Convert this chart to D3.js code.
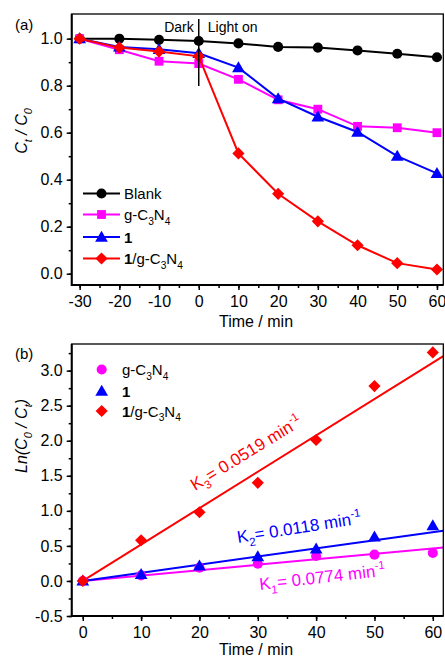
<!DOCTYPE html>
<html><head><meta charset="utf-8">
<script src="https://cdn.jsdelivr.net/npm/d3@7"></script>
<style>
html,body{margin:0;padding:0;background:#fff;}
svg{display:block;font-family:"Liberation Sans",Arial,sans-serif;}
</style></head>
<body><svg id="c" width="445" height="661"></svg>
<script>
// ---- Panel (a) data ----
const timesA = [-30,-20,-10,0,10,20,30,40,50,60];
const blankA = [1.0,1.0,0.995,0.99,0.98,0.965,0.962,0.95,0.936,0.921];
const gcnA   = [1.0,0.953,0.904,0.894,0.827,0.74,0.70,0.627,0.621,0.60];
const oneA   = [1.0,0.965,0.955,0.938,0.877,0.745,0.668,0.603,0.50,0.427];
const compA  = [1.0,0.962,0.945,0.925,0.512,0.34,0.223,0.121,0.045,0.018];
const xTicksA = [-30,-20,-10,0,10,20,30,40,50,60];
const yTicksA = [0.0,0.2,0.4,0.6,0.8,1.0];

// ---- Panel (b) data ----
const timesB = [0,10,20,30,40,50,60];
const gcnB  = [0,0.08,0.19,0.245,0.356,0.375,0.40];
const oneB  = [0,0.096,0.214,0.347,0.457,0.63,0.79];
const compB = [0,0.58,0.98,1.40,2.01,2.78,3.26];
const fitK  = [0.0077,0.0116,0.0519];   // slopes of fitted lines (g-C3N4, 1, 1/g-C3N4)
const xTicksB = [0,10,20,30,40,50,60];
const yTicksB = [-0.5,0.0,0.5,1.0,1.5,2.0,2.5,3.0];

const BLACK="#000000", MAG="#ff00ff", BLUE="#0000ff", RED="#ff0000";
const svg = d3.select("#c");
const hy = f => d => f(d).replace("\u2212","-");

function richText(g, x, y, parts, opts){
  const t = g.append("text").attr("x",x).attr("y",y)
    .attr("font-size",opts.size).attr("fill",opts.fill||"#000")
    .attr("text-anchor",opts.anchor||"start");
  if(opts.transform) t.attr("transform",opts.transform);
  if(opts.italic) t.attr("font-style","italic");
  let shift = 0;
  parts.forEach(p=>{
    const [txt, kind, bold] = p;
    let target = 0, fs = opts.size;
    if(kind==="sub"){ target = opts.size*0.3; fs = opts.size*0.68; }
    if(kind==="sup"){ target = -opts.size*0.42; fs = opts.size*0.68; }
    const ts = t.append("tspan").text(txt).attr("font-size",fs).attr("dy",target-shift);
    if(bold) ts.attr("font-weight","bold");
    shift = target;
  });
  return t;
}

function symbolPath(kind){
  if(kind==="circle") return d3.symbol(d3.symbolCircle, 80)();
  if(kind==="square") return d3.symbol(d3.symbolSquare, 78)();
  if(kind==="triangle") return d3.symbol(d3.symbolTriangle, 70)();
  if(kind==="diamond") return d3.symbol(d3.symbolSquare, 74)();
}
function drawMarker(g, x, y, kind, color){
  return g.append("path").attr("d",symbolPath(kind)).attr("fill",color)
    .attr("transform",`translate(${x},${y})` + (kind==="diamond"?" rotate(45)":"") + (kind==="triangle"?" translate(0,1)":""));
}

function frameAxes(g, x, y, xMajor, xMinor, yMajor, yMinor, yFmt){
  const [x0,x1] = x.range(), [y0,y1] = y.range();
  g.append("g").attr("transform",`translate(0,${y0})`)
    .call(d3.axisBottom(x).tickValues(xMinor).tickSize(3).tickFormat(""))
    .call(s=>s.select(".domain").remove());
  g.append("g").attr("transform",`translate(${x0},0)`)
    .call(d3.axisLeft(y).tickValues(yMinor).tickSize(3).tickFormat(""))
    .call(s=>s.select(".domain").remove());
  const ax = g.append("g").attr("transform",`translate(0,${y0})`)
    .call(d3.axisBottom(x).tickValues(xMajor).tickSize(5).tickPadding(6).tickFormat(hy(d3.format("d"))))
    .call(s=>s.select(".domain").remove());
  const ay = g.append("g").attr("transform",`translate(${x0},0)`)
    .call(d3.axisLeft(y).tickValues(yMajor).tickSize(5).tickPadding(4).tickFormat(hy(yFmt)))
    .call(s=>s.select(".domain").remove());
  [ax,ay].forEach(a=>{
    a.selectAll("text").attr("font-size",16).attr("fill","#000")
     .attr("font-family","'Liberation Sans',Arial,sans-serif");
  });
  g.selectAll(".tick line").attr("stroke","#000").attr("stroke-width",1.5);
  g.append("rect").attr("x",x0).attr("y",y1).attr("width",x1-x0).attr("height",y0-y1)
    .attr("fill","none").attr("stroke","#000").attr("stroke-width",1.3);
  g.append("path").attr("d",`M${x0},${y1}V${y0}H${x1}`).attr("fill","none")
    .attr("stroke","#000").attr("stroke-width",2);
}

// ================= Panel (a) =================
const ga = svg.append("g");
const xa = d3.scaleLinear().domain([-32,61.6]).range([71.7,443.3]);
const ya = d3.scaleLinear().domain([-0.048,1.105]).range([285,14]);

const seriesA = [
  {vals:blankA, color:BLACK, sym:"circle"},
  {vals:gcnA, color:MAG, sym:"square"},
  {vals:oneA, color:BLUE, sym:"triangle"},
  {vals:compA, color:RED, sym:"diamond"}
];
const lineA = d3.line().x(d=>xa(d[0])).y(d=>ya(d[1]));
seriesA.forEach(s=>{
  const pts = timesA.map((t,i)=>[t,s.vals[i]]);
  ga.append("path").attr("d",lineA(pts)).attr("fill","none").attr("stroke",s.color).attr("stroke-width",2);
  pts.forEach(p=>drawMarker(ga, xa(p[0]), ya(p[1]), s.sym, s.color));
});

frameAxes(ga, xa, ya, xTicksA, d3.range(-30,61,5), yTicksA, d3.range(0,1.05,0.1), d3.format(".1f"));

ga.append("line").attr("x1",xa(0)).attr("x2",xa(0)).attr("y1",19).attr("y2",86)
  .attr("stroke","#000").attr("stroke-width",1.5);
ga.append("text").attr("x",xa(0)-5).attr("y",31.5).attr("text-anchor","end").attr("font-size",14).text("Dark");
ga.append("text").attr("x",xa(0)+9).attr("y",31.5).attr("font-size",14).text("Light on");
ga.append("text").attr("x",15).attr("y",30).attr("font-size",15).text("(a)");

richText(ga, 0, 0, [["C"],["t","sub"],[" / C"],["0","sub"]],
  {size:16, italic:true, anchor:"middle", transform:"translate(27,131) rotate(-90)"});
ga.append("text").attr("x",256).attr("y",327).attr("text-anchor","middle").attr("font-size",16).text("Time / min");

const legA = [
  {parts:[["Blank"]], color:BLACK, sym:"circle", y:193.5},
  {parts:[["g-C"],["3","sub"],["N"],["4","sub"]], color:MAG, sym:"square", y:214.5},
  {parts:[["1",null,true]], color:BLUE, sym:"triangle", y:237},
  {parts:[["1",null,true],["/g-C"],["3","sub"],["N"],["4","sub"]], color:RED, sym:"diamond", y:258.5}
];
legA.forEach(l=>{
  ga.append("line").attr("x1",83).attr("x2",120).attr("y1",l.y).attr("y2",l.y).attr("stroke",l.color).attr("stroke-width",2);
  drawMarker(ga, 101.5, l.y, l.sym, l.color);
  richText(ga, 124, l.y+5.5, l.parts, {size:15});
});

// ================= Panel (b) =================
const gb = svg.append("g");
const xb = d3.scaleLinear().domain([-1.9,61.8]).range([71.7,443.3]);
const yb = d3.scaleLinear().domain([-0.5,3.38]).range([616,344]);

const fitColors = [MAG, BLUE, RED];
fitK.forEach((k,i)=>{
  gb.append("line").attr("x1",xb(0)).attr("y1",yb(0)).attr("x2",xb(61.8)).attr("y2",yb(k*61.8))
    .attr("stroke",fitColors[i]).attr("stroke-width",2);
});
const seriesB = [
  {vals:gcnB, color:MAG, sym:"circle"},
  {vals:oneB, color:BLUE, sym:"triangle"},
  {vals:compB, color:RED, sym:"diamond"}
];
seriesB.forEach(s=>{
  timesB.forEach((t,i)=>drawMarker(gb, xb(t), yb(s.vals[i]), s.sym, s.color));
});

frameAxes(gb, xb, yb, xTicksB, d3.range(0,61,5), yTicksB, d3.range(-0.5,3.3,0.25), d3.format(".1f"));

gb.append("text").attr("x",15).attr("y",359).attr("font-size",15).text("(b)");
richText(gb, 0, 0, [["Ln(C"],["0","sub"],[" / C"],["t","sub"],[")"]],
  {size:16, italic:true, anchor:"middle", transform:"translate(27,436) rotate(-90)"});
gb.append("text").attr("x",256).attr("y",655).attr("text-anchor","middle").attr("font-size",16).text("Time / min");

const legB = [
  {parts:[["g-C"],["3","sub"],["N"],["4","sub"]], color:MAG, sym:"circle", y:369.5},
  {parts:[["1",null,true]], color:BLUE, sym:"triangle", y:391},
  {parts:[["1",null,true],["/g-C"],["3","sub"],["N"],["4","sub"]], color:RED, sym:"diamond", y:411}
];
legB.forEach(l=>{
  drawMarker(gb, 101.7, l.y, l.sym, l.color);
  richText(gb, 122, l.y+5.5, l.parts, {size:15});
});

richText(gb, 195, 491, [["K"],["3","sub"],["= 0.0519 min"],["-1","sup"]],
  {size:17, fill:RED, transform:"rotate(-31.5,195,491)"});
richText(gb, 238, 543, [["K"],["2","sub"],["= 0.0118 min"],["-1","sup"]],
  {size:17, fill:BLUE, transform:"rotate(-9,238,543)"});
richText(gb, 260, 590, [["K"],["1","sub"],["= 0.0774 min"],["-1","sup"]],
  {size:17, fill:MAG, transform:"rotate(-6.5,260,590)"});
</script></body></html>
